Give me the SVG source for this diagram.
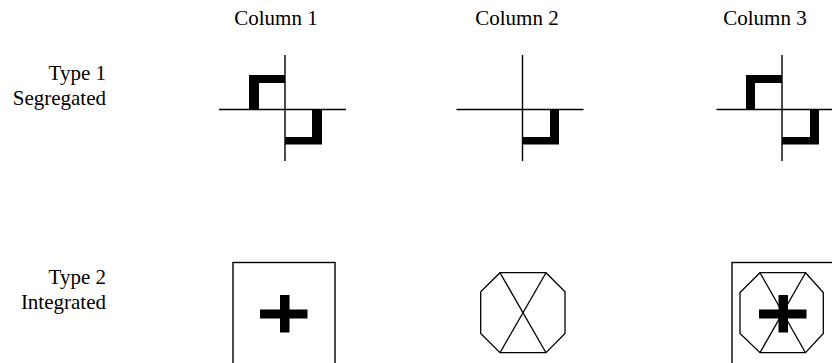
<svg xmlns="http://www.w3.org/2000/svg" width="832" height="363" viewBox="0 0 832 363">
<style>
text{font-family:"Liberation Serif","Times New Roman",serif;font-size:21px;fill:#000}
.col{text-anchor:middle}
.row{text-anchor:end}
.ax{stroke:#000;stroke-width:1.4;fill:none}
.thin{stroke:#000;stroke-width:1.3;fill:none}
.solid{fill:#000;stroke:none}
</style>
<rect width="832" height="363" fill="#fff"/>
<g id="headers">
<text class="col" x="276" y="25">Column 1</text>
<text class="col" x="517" y="25">Column 2</text>
<text class="col" x="765" y="25">Column 3</text>
</g>
<g id="row-labels">
<text class="row" x="106" y="80">Type 1</text>
<text class="row" x="106" y="105">Segregated</text>
<text class="row" x="106" y="284">Type 2</text>
<text class="row" x="106" y="309">Integrated</text>
</g>
<g id="c1-type1">
<line class="ax" x1="285" y1="55" x2="285" y2="161"/>
<line class="ax" x1="219" y1="109.5" x2="346" y2="109.5"/>
<polygon class="solid" points="249,75 285,75 285,83 259,83 259,109.5 249,109.5"/>
<polygon class="solid" points="312,109.5 322,109.5 322,144.5 285,144.5 285,137 312,137"/>
</g>
<g id="c2-type1">
<line class="ax" x1="522.5" y1="55" x2="522.5" y2="161"/>
<line class="ax" x1="456.5" y1="109.5" x2="583.5" y2="109.5"/>
<polygon class="solid" points="550,109.5 559,109.5 559,144.5 522.5,144.5 522.5,137 550,137"/>
</g>
<g id="c3-type1">
<line class="ax" x1="782" y1="55" x2="782" y2="161"/>
<line class="ax" x1="716.5" y1="109.5" x2="832" y2="109.5"/>
<polygon class="solid" points="746,75 782,75 782,83 755,83 755,109.5 746,109.5"/>
<polygon class="solid" points="810,109.5 819,109.5 819,144.5 782,144.5 782,137 810,137"/>
</g>
<g id="c1-type2">
<rect class="ax" x="233" y="262.5" width="102" height="104"/>
<rect class="solid" x="260" y="309.5" width="47.5" height="9"/>
<rect class="solid" x="280" y="295" width="9.5" height="37.5"/>
</g>
<g id="c2-type2">
<polygon class="thin" points="500,272.7 546,272.7 565,291.7 565,333.5 546,352.7 500,352.7 480.7,333.5 480.7,291.7"/>
<line class="thin" x1="500" y1="272.7" x2="546" y2="352.7"/>
<line class="thin" x1="546" y1="272.7" x2="500" y2="352.7"/>
</g>
<g id="c3-type2">
<rect class="ax" x="732" y="262.5" width="104" height="104"/>
<polygon class="thin" points="760,272.7 805.5,272.7 823.3,292.5 823.3,333.5 805.5,352.7 760,352.7 740,333.5 740,292.5" stroke-width="1.1"/>
<line class="thin" x1="760" y1="272.7" x2="805.5" y2="352.7" stroke-width="1.1"/>
<line class="thin" x1="805.5" y1="272.7" x2="760" y2="352.7" stroke-width="1.1"/>
<rect class="solid" x="759" y="309.5" width="47.5" height="9"/>
<rect class="solid" x="778.5" y="295" width="9.5" height="37.5"/>
</g>
</svg>
